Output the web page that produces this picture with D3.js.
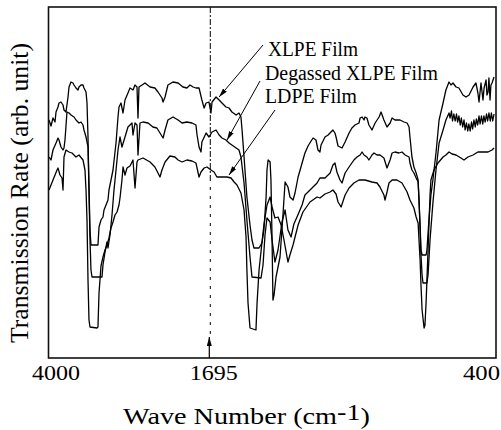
<!DOCTYPE html>
<html>
<head>
<meta charset="utf-8">
<script src="https://cdn.jsdelivr.net/npm/d3@7"></script>
<style>
  body { margin: 0; background: #fff; }
  svg { display: block; }
</style>
</head>
<body>
<svg width="501" height="430" font-family="Liberation Serif"></svg>
<script>
// spectra: [wave number (cm-1), transmission (arb. unit)]
const xlpeFilm = [[3989,238],[3947,232],[3905,240],[3862,236],[3841,246],[3799,251],[3778,255],[3736,256],[3693,253],[3672,248],[3630,246],[3587,261],[3566,271],[3524,276],[3482,275],[3460,273],[3418,270],[3376,268],[3355,271],[3312,273],[3270,273],[3249,270],[3206,266],[3185,255],[3164,221],[3143,171],[3122,128],[3101,113],[2953,113],[2931,131],[2889,138],[2847,141],[2825,148],[2783,153],[2741,158],[2720,168],[2677,178],[2635,188],[2571,215],[2529,241],[2508,251],[2466,255],[2423,245],[2381,258],[2318,265],[2275,270],[2212,268],[2169,273],[2127,271],[2106,240],[2085,271],[2021,273],[1991,275],[1968,271],[1946,270],[1932,266],[1914,260],[1909,256],[1900,261],[1887,273],[1864,276],[1841,275],[1819,271],[1801,270],[1787,273],[1773,271],[1760,270],[1746,270],[1733,258],[1723,250],[1714,255],[1701,256],[1692,245],[1687,256],[1669,261],[1655,258],[1642,255],[1624,251],[1610,250],[1597,246],[1578,243],[1565,245],[1556,241],[1551,228],[1542,201],[1529,161],[1515,133],[1506,118],[1497,110],[1474,110],[1461,115],[1452,128],[1442,161],[1438,188],[1433,198],[1424,196],[1420,178],[1415,118],[1411,58],[1406,63],[1397,81],[1379,101],[1365,145],[1356,176],[1343,171],[1334,161],[1320,158],[1311,165],[1297,181],[1284,191],[1266,205],[1252,212],[1238,217],[1229,220],[1216,218],[1207,208],[1198,206],[1193,213],[1175,221],[1161,223],[1148,226],[1139,228],[1130,225],[1125,221],[1116,212],[1098,210],[1084,216],[1066,225],[1053,230],[1039,233],[1021,235],[1016,240],[1007,241],[998,238],[994,241],[985,240],[976,233],[962,228],[948,235],[930,241],[921,246],[908,238],[894,231],[880,235],[871,240],[858,238],[835,238],[817,236],[803,235],[794,231],[790,221],[781,201],[772,191],[762,185],[753,178],[749,158],[744,133],[740,108],[735,103],[717,103],[713,108],[704,138],[695,163],[686,178],[672,205],[658,238],[640,255],[627,268],[613,276],[604,273],[595,275],[581,271],[568,270],[550,263],[536,261],[522,263],[504,271],[491,275],[482,265],[477,256],[468,275],[459,258],[454,270],[445,278],[441,263],[436,266],[432,280],[427,258],[423,273],[418,275],[409,281]];

const degassedFilm = [[3989,201],[3947,198],[3905,208],[3841,215],[3799,220],[3778,218],[3736,211],[3693,208],[3672,210],[3651,218],[3609,246],[3566,245],[3524,243],[3460,241],[3418,238],[3355,235],[3312,236],[3270,233],[3249,228],[3206,221],[3164,211],[3143,168],[3122,118],[3101,88],[3079,81],[2868,81],[2847,93],[2804,106],[2762,116],[2741,110],[2699,123],[2656,143],[2614,168],[2571,188],[2529,208],[2487,221],[2445,211],[2381,221],[2318,231],[2233,235],[2212,223],[2169,235],[2127,233],[2106,203],[2064,235],[2000,236],[1977,235],[1955,231],[1937,230],[1923,225],[1909,220],[1900,228],[1887,238],[1864,241],[1841,238],[1823,235],[1801,236],[1778,235],[1760,233],[1755,223],[1746,211],[1737,206],[1733,216],[1714,225],[1701,221],[1687,226],[1669,228],[1655,223],[1642,220],[1624,218],[1610,215],[1597,213],[1578,210],[1565,208],[1556,201],[1542,175],[1529,138],[1515,101],[1506,81],[1465,80],[1456,93],[1447,123],[1438,140],[1424,136],[1415,118],[1402,96],[1388,108],[1370,136],[1356,148],[1343,128],[1329,121],[1316,134],[1302,141],[1279,153],[1266,163],[1243,168],[1211,175],[1198,180],[1175,180],[1152,185],[1139,193],[1130,195],[1121,186],[1107,178],[1098,175],[1084,185],[1066,191],[1044,198],[1030,201],[1016,203],[1007,206],[998,203],[985,201],[976,198],[962,203],[953,205],[939,203],[926,203],[908,200],[894,190],[880,198],[871,205],[858,206],[840,205],[826,206],[812,203],[794,201],[790,195],[781,188],[772,185],[762,180],[753,176],[749,158],[744,128],[740,103],[735,83],[731,75],[713,75],[708,83],[699,118],[686,155],[672,188],[658,215],[640,228],[627,238],[613,245],[608,240],[602,247],[597,237],[591,244],[585,237],[579,244],[574,236],[568,242],[562,233],[557,240],[551,231],[545,238],[540,228],[534,235],[528,227],[523,234],[517,227],[511,236],[506,229],[500,238],[494,231],[489,239],[483,233],[477,242],[472,234],[466,242],[460,234],[455,242],[449,236],[443,244],[438,237],[432,245],[426,237],[421,245],[415,237],[409,244]];

const ldpeFilm = [[3989,168],[3947,173],[3905,178],[3862,183],[3820,188],[3799,190],[3757,183],[3714,180],[3693,168],[3672,201],[3630,208],[3566,206],[3503,205],[3418,201],[3355,203],[3270,198],[3228,188],[3206,168],[3185,138],[3164,78],[3143,38],[3122,31],[2974,30],[2953,31],[2931,65],[2889,92],[2847,101],[2804,108],[2762,113],[2720,120],[2677,130],[2635,136],[2593,143],[2550,146],[2508,153],[2487,160],[2445,178],[2423,191],[2381,183],[2339,190],[2275,192],[2233,196],[2212,198],[2169,170],[2127,196],[2106,198],[2000,200],[1968,196],[1946,191],[1932,185],[1923,181],[1914,188],[1900,196],[1878,202],[1855,201],[1841,198],[1823,196],[1801,198],[1778,197],[1760,195],[1746,181],[1737,186],[1723,190],[1710,191],[1692,188],[1678,186],[1665,181],[1642,181],[1619,181],[1601,180],[1587,176],[1574,173],[1556,165],[1542,148],[1533,121],[1529,88],[1524,55],[1515,30],[1488,28],[1483,55],[1474,88],[1461,115],[1452,133],[1438,153],[1424,161],[1415,151],[1402,140],[1388,141],[1374,133],[1361,118],[1343,96],[1334,103],[1320,113],[1297,133],[1275,146],[1243,156],[1211,161],[1198,160],[1175,164],[1152,166],[1139,168],[1125,164],[1116,156],[1102,151],[1084,163],[1066,170],[1044,175],[1021,178],[994,178],[962,176],[939,175],[926,171],[908,163],[903,158],[894,166],[885,175],[871,178],[849,178],[826,175],[803,166],[790,158],[772,150],[762,141],[753,135],[749,118],[744,98],[740,73],[735,48],[726,30],[722,33],[717,55],[708,108],[699,163],[695,178],[681,188],[663,195],[640,201],[627,203],[613,206],[599,204],[581,203],[559,200],[545,198],[527,201],[504,203],[482,206],[459,206],[436,206],[418,208],[409,210]];

const seriesNames = ['XLPE Film', 'Degassed XLPE Film', 'LDPE Film'];
const tickValues = [4000, 1695, 400];
const tickLabels = ['4000', '1695', '400'];
const markWave = 1695;

const xAxisLabelText = 'Wave Number  (cm';
const yAxisLabelText = 'Transmission Rate  (arb. unit)';

(function (d3) {
  'use strict';
  const svg = d3.select('svg');

  const left = 48.5, right = 496, top = 7, bottom = 358;

  // the recorder changes scale at 2000 cm-1
  const xScale = d3.scaleLinear()
    .domain([4000, 2000, 400])
    .range([left, 143, right]);
  const yScale = d3.scaleLinear()
    .domain([0, 350])
    .range([bottom, bottom - 350]);

  const line = d3.line()
    .x(d => xScale(d[0]))
    .y(d => yScale(d[1]));

  const defs = svg.append('defs');
  defs.append('marker')
      .attr('id', 'head')
      .attr('viewBox', '0 0 9 5')
      .attr('markerUnits', 'userSpaceOnUse')
      .attr('markerWidth', 9)
      .attr('markerHeight', 5)
      .attr('refX', 9)
      .attr('refY', 2.5)
      .attr('orient', 'auto')
    .append('path')
      .attr('d', 'M0,0L9,2.5L0,5Z')
      .attr('fill', '#000');

  // 1695 marker line
  const mx = xScale(markWave);
  svg.append('line')
      .attr('x1', mx).attr('x2', mx)
      .attr('y1', top).attr('y2', 178)
      .attr('stroke', '#000').attr('stroke-width', 1)
      .attr('stroke-dasharray', '6,2,2,2');
  svg.append('line')
      .attr('x1', mx).attr('x2', mx)
      .attr('y1', 178).attr('y2', 336)
      .attr('stroke', '#000').attr('stroke-width', 1)
      .attr('stroke-dasharray', '3,6');
  svg.append('line')
      .attr('x1', mx - 1).attr('x2', mx - 1)
      .attr('y1', bottom).attr('y2', 337)
      .attr('stroke', '#000').attr('stroke-width', 1.2)
      .attr('marker-end', 'url(#head)');

  const spectra = [xlpeFilm, degassedFilm, ldpeFilm];
  svg.append('g').selectAll('path').data(spectra)
    .enter().append('path')
      .attr('d', line)
      .attr('fill', 'none')
      .attr('stroke', '#000')
      .attr('stroke-width', 1.3)
      .attr('stroke-linejoin', 'round');

  svg.append('rect')
      .attr('x', left).attr('y', top)
      .attr('width', right - left).attr('height', bottom - top)
      .attr('fill', 'none')
      .attr('stroke', '#111')
      .attr('stroke-width', 1.6);

  // legend labels with pointer arrows
  const labelPos = [[268, 56, 90], [265, 80, 173], [265, 103, 92]];
  const arrowFrom = [[263, 45], [260, 81], [275, 110]];
  const arrowTo = [[1655, 261], [1619, 218], [1610, 183]];
  svg.append('g').selectAll('text').data(seriesNames)
    .enter().append('text')
      .attr('x', (d, i) => labelPos[i][0])
      .attr('y', (d, i) => labelPos[i][1])
      .attr('font-size', 20)
      .attr('textLength', (d, i) => labelPos[i][2])
      .attr('lengthAdjust', 'spacingAndGlyphs')
      .text(d => d);
  svg.append('g').selectAll('line').data(seriesNames)
    .enter().append('line')
      .attr('x1', (d, i) => arrowFrom[i][0])
      .attr('y1', (d, i) => arrowFrom[i][1])
      .attr('x2', (d, i) => xScale(arrowTo[i][0]))
      .attr('y2', (d, i) => yScale(arrowTo[i][1]))
      .attr('stroke', '#000')
      .attr('stroke-width', 1)
      .attr('marker-end', 'url(#head)');

  // tick labels
  const tickShift = [7.5, 3.5, -14.5];
  const tickWidth = [48, 48, 37];
  svg.append('g').selectAll('text').data(tickValues)
    .enter().append('text')
      .attr('x', (d, i) => xScale(d) + tickShift[i])
      .attr('y', 380)
      .attr('text-anchor', 'middle')
      .attr('font-size', 21)
      .attr('textLength', (d, i) => tickWidth[i])
      .attr('lengthAdjust', 'spacingAndGlyphs')
      .text((d, i) => tickLabels[i]);

  const xl = svg.append('text')
      .attr('x', 123)
      .attr('y', 424)
      .attr('font-size', 23)
      .attr('textLength', 247)
      .attr('lengthAdjust', 'spacingAndGlyphs');
  xl.append('tspan').text(xAxisLabelText);
  xl.append('tspan').attr('dy', -4).text('-1');
  xl.append('tspan').attr('dy', 4).text(')');

  svg.append('text')
      .attr('transform', 'translate(28,193) rotate(-90)')
      .attr('text-anchor', 'middle')
      .attr('font-size', 25)
      .attr('textLength', 300)
      .attr('lengthAdjust', 'spacingAndGlyphs')
      .text(yAxisLabelText);
}(d3));
</script>
</body>
</html>
